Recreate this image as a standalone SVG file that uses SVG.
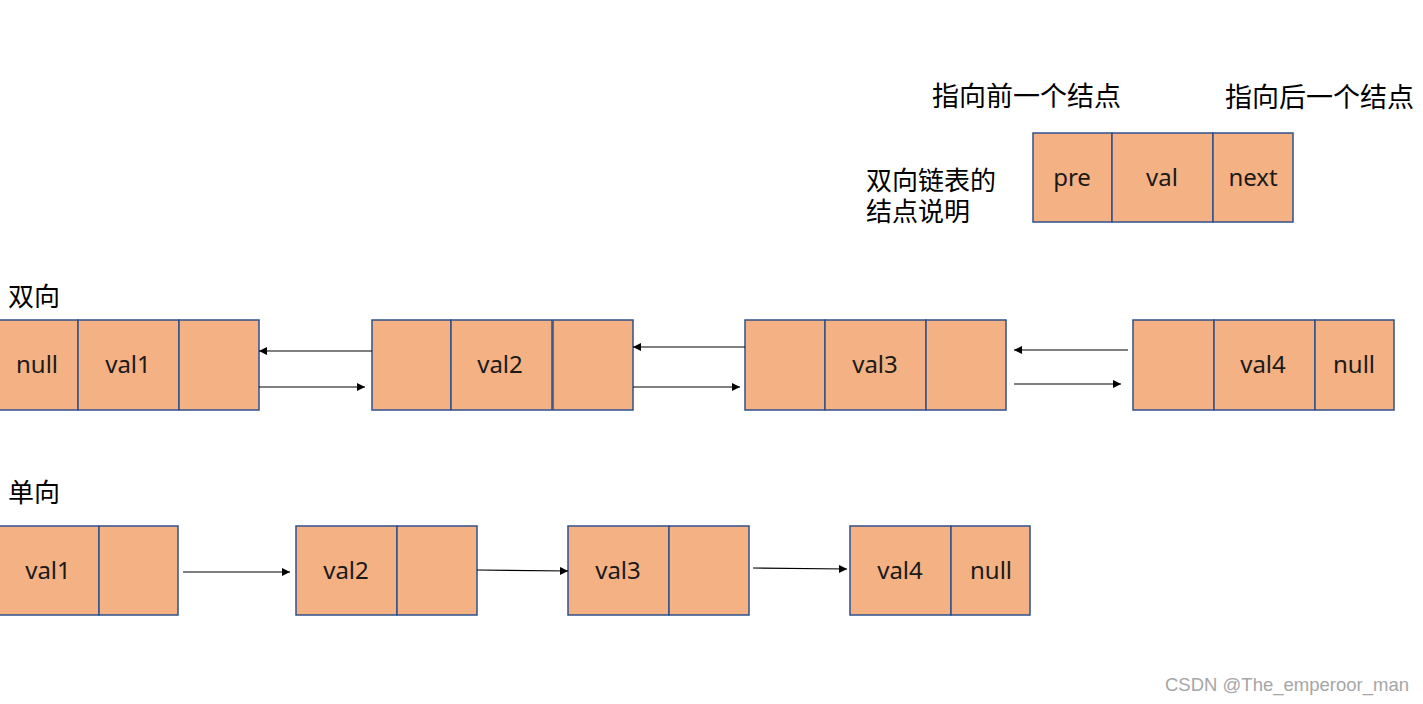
<svg xmlns="http://www.w3.org/2000/svg" width="1423" height="704" viewBox="0 0 1423 704">
<defs>
<style>
.cell{fill:#F4B183;stroke:#2F528F;stroke-width:1.5}
.t{font-family:"Noto Sans","Noto Sans CJK SC",sans-serif;font-size:24px;fill:#1a1a1a;text-anchor:middle}
.cn{font-family:"Noto Sans CJK SC",sans-serif;font-size:27px;fill:#000}
.cs{font-family:"Noto Sans CJK SC",sans-serif;font-size:26px;fill:#000}
.ln{stroke:#000;stroke-width:1.2;fill:none;marker-end:url(#ah)}
.wm{font-family:"Liberation Sans",Arial,sans-serif;font-size:18.5px;fill:#a6a6a6}
</style>
<marker id="ah" viewBox="0 0 10 10" refX="10" refY="5" markerWidth="8" markerHeight="8" markerUnits="userSpaceOnUse" orient="auto">
<path d="M0,0 L10,5 L0,10 z" fill="#000"/>
</marker>
</defs>
<rect width="1423" height="704" fill="#fff"/>

<g id="legend">
<text class="cn" x="932" y="106">指向前一个结点</text>
<text class="cn" x="1225" y="107">指向后一个结点</text>
<text class="cs" x="866" y="190">双向链表的<tspan x="866" dy="31">结点说明</tspan></text>
</g>
<g id="node-legend">
<rect class="cell" x="1033" y="133" width="79" height="89"/>
<rect class="cell" x="1112" y="133" width="101" height="89"/>
<rect class="cell" x="1213" y="133" width="80" height="89"/>
<text class="t" x="1072" y="186">pre</text>
<text class="t" x="1162" y="186">val</text>
<text class="t" x="1253" y="186">next</text>
</g>

<text class="cs" x="8" y="306">双向</text>
<text class="cs" x="8" y="502">单向</text>

<g id="d1">
<rect class="cell" x="-1" y="320" width="79" height="90"/>
<rect class="cell" x="78" y="320" width="101" height="90"/>
<rect class="cell" x="179" y="320" width="80" height="90"/>
<text class="t" x="37" y="373">null</text>
<text class="t" x="128" y="373">val1</text>
</g>
<g id="d2">
<rect class="cell" x="372" y="320" width="79" height="90"/>
<rect class="cell" x="451" y="320" width="101" height="90"/>
<rect class="cell" x="553" y="320" width="80" height="90"/>
<text class="t" x="500" y="373">val2</text>
</g>
<g id="d3">
<rect class="cell" x="745" y="320" width="80" height="90"/>
<rect class="cell" x="825" y="320" width="101" height="90"/>
<rect class="cell" x="926" y="320" width="80" height="90"/>
<text class="t" x="875" y="373">val3</text>
</g>
<g id="d4">
<rect class="cell" x="1133" y="320" width="81" height="90"/>
<rect class="cell" x="1214" y="320" width="101" height="90"/>
<rect class="cell" x="1315" y="320" width="79" height="90"/>
<text class="t" x="1263" y="373">val4</text>
<text class="t" x="1354" y="373">null</text>
</g>

<g id="s1">
<rect class="cell" x="-1" y="526" width="100" height="89"/>
<rect class="cell" x="99" y="526" width="79" height="89"/>
<text class="t" x="48" y="579">val1</text>
</g>
<g id="s2">
<rect class="cell" x="296" y="526" width="101" height="89"/>
<rect class="cell" x="397" y="526" width="80" height="89"/>
<text class="t" x="346" y="579">val2</text>
</g>
<g id="s3">
<rect class="cell" x="568" y="526" width="101" height="89"/>
<rect class="cell" x="669" y="526" width="80" height="89"/>
<text class="t" x="618" y="579">val3</text>
</g>
<g id="s4">
<rect class="cell" x="850" y="526" width="101" height="89"/>
<rect class="cell" x="951" y="526" width="79" height="89"/>
<text class="t" x="900" y="579">val4</text>
<text class="t" x="991" y="579">null</text>
</g>

<g id="connectors">
<line class="ln" x1="372" y1="351" x2="259" y2="351"/>
<line class="ln" x1="259" y1="387" x2="365" y2="387"/>
<line class="ln" x1="745" y1="347" x2="633" y2="347"/>
<line class="ln" x1="633" y1="387" x2="740" y2="387"/>
<line class="ln" x1="1128" y1="350" x2="1014" y2="350"/>
<line class="ln" x1="1014" y1="384" x2="1121" y2="384"/>
<line class="ln" x1="183" y1="572" x2="290" y2="572"/>
<line class="ln" x1="477" y1="570" x2="568" y2="571"/>
<line class="ln" x1="753" y1="568" x2="847" y2="569"/>
</g>

<text class="wm" x="1165" y="691">CSDN @The_emperoor_man</text>
</svg>
